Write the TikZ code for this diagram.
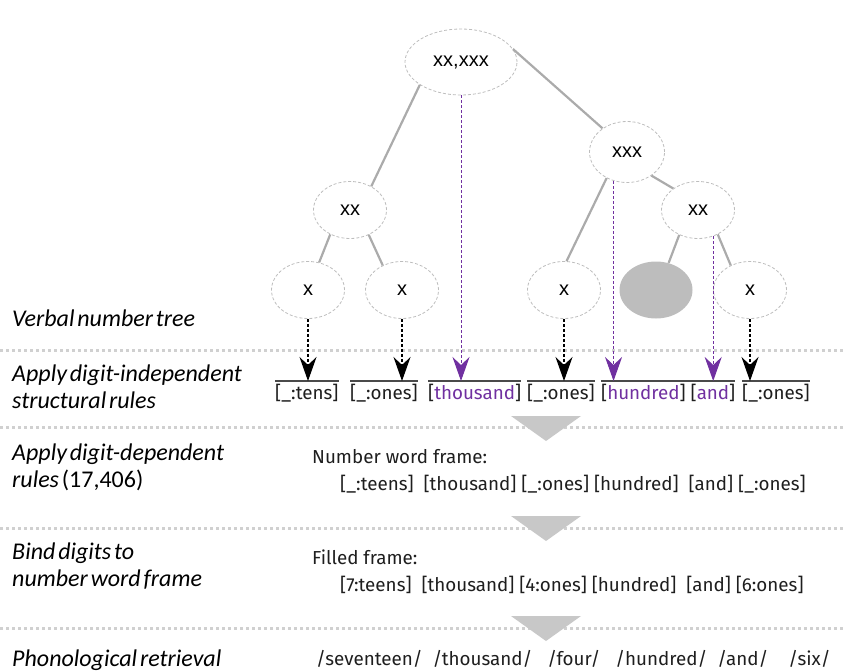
\documentclass[tikz,border=0pt]{standalone}
\usepackage{fontspec}
\setmainfont{Carlito}
\newfontfamily\frm{Fira Sans}
\newfontfamily\ndf{Liberation Sans}
\usetikzlibrary{shapes.geometric,arrows.meta}
\newcommand\stagefont{\fontsize{24}{27}\selectfont\itshape\spaceskip=0.12em plus 0.05em\relax}
\definecolor{pur}{HTML}{7030A0}
\definecolor{edgegray}{HTML}{ABABAB}
\definecolor{ellgray}{HTML}{BDBDBD}
\definecolor{dotgray}{HTML}{D0D0D0}
\definecolor{trigray}{HTML}{C8C8C8}
\definecolor{txt}{HTML}{1E1E1E}
\definecolor{ovlgray}{HTML}{4A4A4A}
\tikzset{
  tnode/.style={ellipse, draw=ellgray, dash pattern=on 3pt off 2pt, line width=0.8pt,
    minimum width=73pt, minimum height=57pt, inner sep=0pt, text=black,
    font=\ndf\fontsize{20}{24}\selectfont},
  treeedge/.style={draw=edgegray, line width=2.2pt},
  tip/.style={-{Stealth[length=24pt,width=17pt,inset=8pt]}},
  blackarr/.style={tip, black, dash pattern=on 3pt off 2pt, line width=1.2pt},
  purarr/.style={tip, pur, dash pattern=on 3pt off 2pt, line width=1.0pt},
  sep/.style={dotgray, line width=3pt, dash pattern=on 3pt off 3pt},
  tri/.style={fill=trigray},
  stagelabel/.style={anchor=base west, inner sep=0pt, align=left,
    font=\stagefont, text=black},
  frametxt/.style={anchor=base west, inner sep=0pt, text=txt,
    font=\frm\fontsize{18.8}{22}\selectfont},
  ovl/.style={ovlgray, line width=1.4pt}
}
\begin{document}
\begin{tikzpicture}[x=1pt,y=-1pt]
\useasboundingbox (0,0) rectangle (845,671);

% separators
\draw[sep] (0,350) -- (845,350);
\draw[sep] (0,427) -- (845,427);
\draw[sep] (0,528) -- (845,528);
\draw[sep] (0,628) -- (845,628);

% down triangles between stages
\fill[tri] (511,416) -- (581,416) -- (546,441) -- cycle;
\fill[tri] (511,516) -- (581,516) -- (546,541) -- cycle;
\fill[tri] (511,616) -- (581,616) -- (546,641) -- cycle;

% verbal number tree
\node[tnode, minimum width=112pt, minimum height=66pt] (root) at (461,62) {xx,xxx};
\node[tnode, minimum width=75pt, minimum height=61pt] (xxx) at (627,152) {xxx};
\node[tnode] (xxl) at (350,210) {xx};
\node[tnode] (xxr) at (698,210) {xx};
\node[tnode] (x1) at (308,290) {x};
\node[tnode] (x2) at (402,290) {x};
\node[tnode] (xm) at (564,290) {x};
\node[tnode, draw=none, fill=ellgray] (gr) at (656,290) {};
\node[tnode] (xr) at (750,290) {x};

\draw[treeedge] (root.209) -- (xxl.48);
\draw[treeedge] (root.14) -- (xxx.136);
\draw[treeedge] (xxx.232) -- (xm.85);
\draw[treeedge] (xxx.316) -- (xxr.139);
\draw[treeedge] (xxl.231) -- (x1.68);
\draw[treeedge] (xxl.307) -- (x2.128);
\draw[treeedge] (xxr.233) -- (gr.65);
\draw[treeedge] (xxr.309) -- (xr.128);

% structural rules row
\coordinate (ovl) at (0,381);
\node[frametxt] (s1) at (275,399) {[\_:tens]};
\node[frametxt] (s2) at (350,399) {[\_:ones]};
\node[frametxt] (s3) at (428,399) {[\textcolor{pur}{thousand}]};
\node[frametxt] (s4) at (527,399) {[\_:ones]};
\node[frametxt] (s5) at (601,399) {[\textcolor{pur}{hundred}] [\textcolor{pur}{and}]};
\node[frametxt] (s6) at (742,399) {[\_:ones]};
\foreach \s in {s1,s2,s3,s4,s5,s6}
  \draw[ovl] (\s.west |- ovl) -- (\s.east |- ovl);

% arrows from the tree to the frame slots
\draw[blackarr] (x1.south) -- (x1.south |- ovl);
\draw[blackarr] (x2.south) -- (x2.south |- ovl);
\draw[blackarr] (xm.south) -- (xm.south |- ovl);
\draw[blackarr] (xr.south) -- (xr.south |- ovl);
\draw[purarr] (root.south) -- (root.south |- ovl);
\draw[purarr] (xxx.245) -- (xxx.245 |- ovl);
\draw[purarr] (xxr.300) -- (xxr.300 |- ovl);

% stage labels
\node[stagelabel] (l1) at (12,326) {Verbal number tree};
\node[stagelabel] (l2) at (12,408) {Apply digit-independent\\structural rules};
\node[stagelabel] (l3) at (12,487) {Apply digit-dependent\\rules \textup{(17,406)}};
\node[stagelabel] (l4) at (12,586) {Bind digits to\\number word frame};
\node[stagelabel] (l5) at (12,666) {Phonological retrieval};

% frames
\node[frametxt] (f1) at (312,463) {Number word frame:};
\node[frametxt] (f2) at (340,490) {[\_:teens]\ \ [thousand] [\_:ones] [hundred]\ \ [and] [\_:ones]};
\node[frametxt] (f3) at (312,564) {Filled frame:};
\node[frametxt] (f4) at (340,591) {[7:teens]\ \ [thousand] [4:ones] [hundred]\ \ [and] [6:ones]};
\node[frametxt] (f5) at (316,665) {/seventeen/\ \ /thousand/\ \ \ /four/\ \ \ /hundred/\ \ /and/\ \ \ \ /six/};
\end{tikzpicture}
\end{document}
